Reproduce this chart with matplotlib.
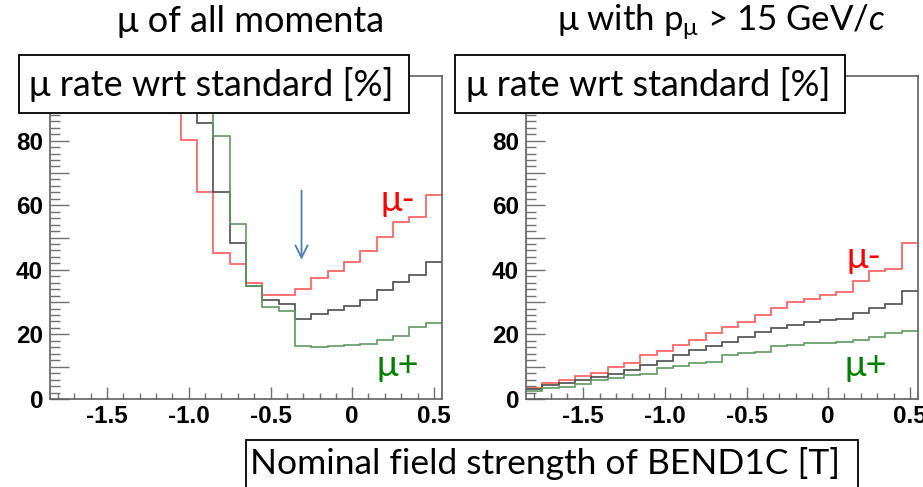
import matplotlib
matplotlib.use("Agg")
import matplotlib.pyplot as plt
from matplotlib.patches import Rectangle
from matplotlib.ticker import MultipleLocator
import numpy as np

# bin centres (field strength, T), bin width 0.1
BIN_CENTERS = [-1.8, -1.7, -1.6, -1.5, -1.4, -1.3, -1.2, -1.1, -1.0, -0.9, -0.8, -0.7,
               -0.6, -0.5, -0.4, -0.3, -0.2, -0.1, 0.0, 0.1, 0.2, 0.3, 0.4, 0.5]
OFF = 120.0  # off scale (> 100 %)

# left: muons of all momenta
MUM_ALL = [OFF] * 8 + [80.3, 64.0, 45.3, 41.9, 36.0, 32.3, 32.3, 34.2, 37.6, 39.5,
                       42.4, 45.7, 50.1, 54.8, 56.3, 63.2]
SUM_ALL = [OFF] * 9 + [85.4, 64.2, 48.4, 35.0, 30.6, 29.5, 24.9, 26.3, 27.7, 28.8,
                       30.6, 33.7, 36.2, 38.5, 42.4]
MUP_ALL = [OFF] * 10 + [81.5, 54.3, 34.9, 28.5, 27.3, 16.4, 16.0, 16.5, 16.6, 16.9,
                        18.4, 19.5, 22.3, 23.4]

# right: muons with p > 15 GeV/c
MUM_HI = [3.5, 4.8, 5.9, 7.2, 8.1, 9.8, 11.0, 13.5, 14.9, 16.7, 18.4, 20.5,
          22.3, 23.8, 25.9, 28.3, 30.1, 31.1, 32.3, 33.2, 36.6, 39.6, 40.4, 48.3]
SUM_HI = [3.0, 4.2, 4.8, 5.9, 6.9, 7.7, 9.0, 10.5, 11.8, 13.5, 15.1, 16.5,
          17.7, 19.3, 20.8, 22.1, 22.9, 23.7, 24.4, 24.9, 26.5, 28.3, 29.5, 33.5]
MUP_HI = [2.5, 3.5, 3.8, 4.5, 5.9, 6.6, 7.4, 7.7, 9.5, 10.2, 11.0, 11.5,
          13.6, 14.1, 14.6, 16.5, 16.7, 17.2, 17.4, 17.7, 18.4, 19.3, 20.3, 21.0]

X_TICKS = [-1.5, -1.0, -0.5, 0.0, 0.5]
X_TICKLABELS = ["-1.5", "-1.0", "-0.5", "0", "0.5"]
Y_TICKS = [0, 10, 20, 30, 40, 50, 60, 70, 80, 90, 100]
Y_TICKLABELS = ["0", "", "20", "", "40", "", "60", "", "80", "", ""]

ARROW_X, ARROW_Y0, ARROW_Y1 = -0.31, 65.4, 42.3

plt.rcParams["font.family"] = ["Lato", "DejaVu Sans"]
plt.rcParams["mathtext.fontset"] = "custom"
plt.rcParams["mathtext.rm"] = "Lato"
plt.rcParams["mathtext.it"] = "Lato:italic"

W, H = 923, 487
fig = plt.figure(figsize=(W / 100, H / 100), dpi=100)
fig.patch.set_facecolor("white")

edges = np.array([c - 0.05 for c in BIN_CENTERS] + [BIN_CENTERS[-1] + 0.05])

RED, GREY, GREEN = "#ff5a5a", "#4d4d4d", "#5f9a5f"
FS = 26
TICK_FONT = dict(family="Liberation Sans", weight="bold", size=17.5)


def px_box(x0, y0, x1, y1, text, tx):
    """White framed label given in figure pixels (top-left origin)."""
    rect = Rectangle((x0 / W, 1 - y1 / H), (x1 - x0) / W, (y1 - y0) / H,
                     transform=fig.transFigure, facecolor="white",
                     edgecolor="black", linewidth=1.3, zorder=5)
    fig.add_artist(rect)
    if text:
        fig.text(tx / W, 1 - (y0 + y1) / 2 / H, text, ha="center", va="center",
                 fontsize=FS, zorder=6)


def panel(left_px, mum, sumh, mup):
    ax = fig.add_axes([left_px / W, (H - 399) / H, 392 / W, 323 / H])
    ax.stairs(mum, edges, baseline=None, color=RED, lw=1.2)
    ax.stairs(sumh, edges, baseline=None, color=GREY, lw=1.2)
    ax.stairs(mup, edges, baseline=None, color=GREEN, lw=1.2)
    ax.set_xlim(edges[0], edges[-1])
    ax.set_ylim(0, 100)
    ax.set_xticks(X_TICKS)
    ax.set_xticklabels(X_TICKLABELS, **TICK_FONT)
    ax.set_yticks(Y_TICKS)
    ax.set_yticklabels(Y_TICKLABELS, **TICK_FONT)
    ax.xaxis.set_minor_locator(MultipleLocator(0.1))
    ax.yaxis.set_minor_locator(MultipleLocator(2))
    ax.tick_params(axis="x", which="major", direction="in", length=9, width=1,
                   color="#707070", pad=4)
    ax.tick_params(axis="x", which="minor", direction="in", length=4, width=1,
                   color="#707070")
    ax.tick_params(axis="y", which="major", direction="in", length=14, width=1,
                   color="#707070", pad=5)
    ax.tick_params(axis="y", which="minor", direction="in", length=7, width=1,
                   color="#707070")
    for sp in ax.spines.values():
        sp.set_color("#606060")
        sp.set_linewidth(1.2)
    return ax


ax1 = panel(50, MUM_ALL, SUM_ALL, MUP_ALL)
ax2 = panel(526, MUM_HI, SUM_HI, MUP_HI)

ax1.annotate("", xy=(ARROW_X, ARROW_Y1), xytext=(ARROW_X, ARROW_Y0),
             arrowprops=dict(arrowstyle="->", color="#4a7ebb", lw=1.3,
                             mutation_scale=22))

ax1.text(0.28, 61.4, "μ-", color="red", fontsize=FS, ha="center", va="center")
ax1.text(0.28, 10.5, "μ+", color="green", fontsize=FS, ha="center", va="center")
ax2.text(0.22, 43.8, "μ-", color="red", fontsize=FS, ha="center", va="center")
ax2.text(0.23, 10.5, "μ+", color="green", fontsize=FS, ha="center", va="center")

fig.text(251 / W, 1 - 22 / H, "μ of all momenta", ha="center", va="center", fontsize=FS)
fig.text(721 / W, 1 - 22 / H, r"μ with p$_{\mathrm{\mu}}$ > 15 GeV/$\mathit{c}$",
         ha="center", va="center", fontsize=25)

px_box(19, 55, 409, 113, "μ rate wrt standard [%]", 211)
px_box(455, 55, 845, 113, "μ rate wrt standard [%]", 648)
px_box(246, 440, 858, 540, "", 552)
fig.text(545 / W, 1 - 464 / H, "Nominal field strength of BEND1C [T]",
         ha="center", va="center", fontsize=25.5, zorder=6)

fig.savefig("out.png", dpi=100)
